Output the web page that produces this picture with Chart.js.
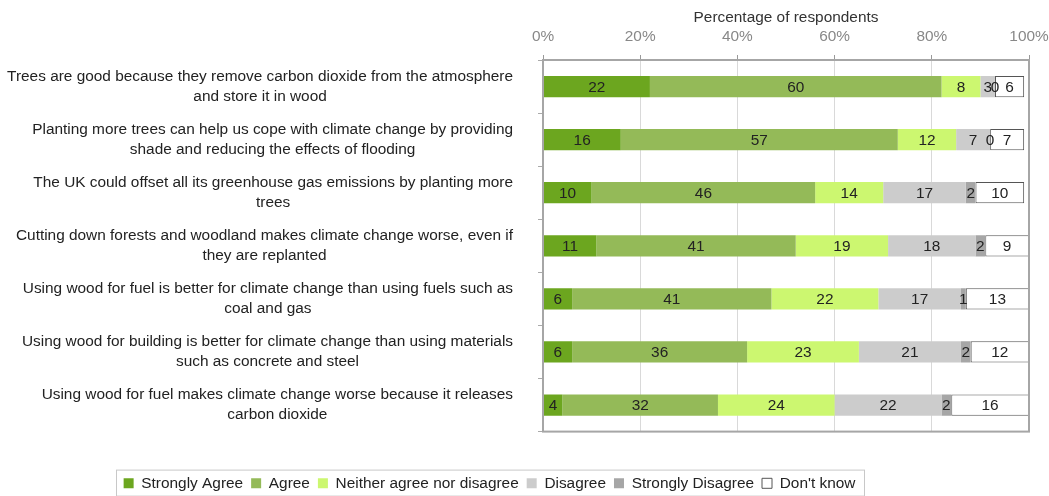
<!DOCTYPE html>
<html>
<head>
<meta charset="utf-8">
<title>Attitudes to trees, wood and climate change</title>
<script src="https://cdn.jsdelivr.net/npm/chart.js@4/dist/chart.umd.min.js"></script>
<style>
  html, body { margin: 0; padding: 0; background: #fff; }
  #wrap { width: 1049px; height: 496px; }
</style>
</head>
<body>
<div id="wrap"><canvas id="chart"></canvas></div>
<script>
// statements, each split into its two printed lines
const statements = [
  ["Trees are good because they remove carbon dioxide from the atmosphere", "and store it in wood"],
  ["Planting more trees can help us cope with climate change by providing", "shade and reducing the effects of flooding"],
  ["The UK could offset all its greenhouse gas emissions by planting more", "trees"],
  ["Cutting down forests and woodland makes climate change worse, even if", "they are replanted"],
  ["Using wood for fuel is better for climate change than using fuels such as", "coal and gas"],
  ["Using wood for building is better for climate change than using materials", "such as concrete and steel"],
  ["Using wood for fuel makes climate change worse because it releases", "carbon dioxide"]
];

const responses = ["Strongly Agree", "Agree", "Neither agree nor disagree", "Disagree", "Strongly Disagree", "Don't know"];

// % of respondents per statement
const stronglyAgree    = [22, 16, 10, 11, 6, 6, 4];
const agree            = [60, 57, 46, 41, 41, 36, 32];
const neither          = [8, 12, 14, 19, 22, 23, 24];
const disagree         = [3, 7, 17, 18, 17, 21, 22];
const stronglyDisagree = [0, 0, 2, 2, 1, 2, 2];
const dontKnow         = [6, 7, 10, 9, 13, 12, 16];

const xTicks = [0, 20, 40, 60, 80, 100];

const FONT = '"Liberation Sans", Arial, Helvetica, sans-serif';
const SIZE = 15.4;
Chart.defaults.font.family = FONT;
Chart.defaults.font.size = SIZE;

const series = [stronglyAgree, agree, neither, disagree, stronglyDisagree, dontKnow];
const fills = ["#6ca61f", "#94ba58", "#ccf770", "#cccccc", "#a6a6a6", "#ffffff"];

const datasets = responses.map((name, i) => ({
  label: name,
  data: series[i],
  backgroundColor: fills[i],
  borderColor: i === 5 ? "#555555" : fills[i],
  borderWidth: i === 5 ? 1 : 0,
  borderSkipped: false,
  barPercentage: 0.4,
  categoryPercentage: 1.0
}));

// grey frame round the plot area
const plotFrame = {
  id: "plotFrame",
  afterDatasetsDraw(chart) {
    const { ctx, chartArea: a } = chart;
    ctx.save();
    ctx.strokeStyle = "#a6a6a6";
    ctx.lineWidth = 2;
    ctx.strokeRect(a.left, a.top, a.right - a.left, a.bottom - a.top);
    ctx.restore();
  }
};

// value printed in the middle of each segment
const valueLabels = {
  id: "valueLabels",
  afterDatasetsDraw(chart) {
    const ctx = chart.ctx;
    ctx.save();
    ctx.font = SIZE + "px " + FONT;
    ctx.fillStyle = "#222";
    ctx.textAlign = "center";
    ctx.textBaseline = "middle";
    chart.data.datasets.forEach((ds, di) => {
      chart.getDatasetMeta(di).data.forEach((bar, i) => {
        ctx.fillText(String(ds.data[i]), (bar.x + bar.base) / 2, bar.y + 1);
      });
    });
    ctx.restore();
  }
};

// statement text: block right-aligned to the axis, lines centred in the block
const statementLabels = {
  id: "statementLabels",
  afterDraw(chart) {
    const ctx = chart.ctx;
    const y = chart.scales.y;
    const right = y.right - 30;
    ctx.save();
    ctx.font = SIZE + "px " + FONT;
    ctx.fillStyle = "#222";
    ctx.textAlign = "center";
    ctx.textBaseline = "middle";
    statements.forEach((lines, i) => {
      const w = Math.max(...lines.map(l => ctx.measureText(l).width));
      const cx = right - w / 2;
      const cy = y.getPixelForValue(i);
      lines.forEach((l, j) => {
        ctx.fillText(l, cx, cy + (j - (lines.length - 1) / 2) * 20);
      });
    });
    ctx.restore();
  }
};

// move the legend a little and box it in
const legendBox = {
  id: "legendBox",
  afterLayout(chart) {
    const lg = chart.legend;
    lg.left -= 25; lg.right -= 25;
    lg.top += 36; lg.bottom += 36;
  },
  afterDraw(chart) {
    const { ctx, legend: lg } = chart;
    ctx.save();
    ctx.font = SIZE + "px " + FONT;
    let total = 0;
    lg.legendItems.forEach((it, i) => {
      total += 10 + SIZE / 2 + ctx.measureText(it.text).width + (i ? 8 : 0);
    });
    const cx = (lg.left + lg.right) / 2;
    ctx.strokeStyle = "#c8c8c8";
    ctx.lineWidth = 1;
    ctx.strokeRect(Math.round(cx - total / 2 - 8) + 0.5, lg.top + 2.5, Math.round(total + 16), 26);
    ctx.restore();
  }
};

new Chart(document.getElementById("chart"), {
  type: "bar",
  data: { labels: statements, datasets },
  options: {
    indexAxis: "y",
    responsive: true,
    maintainAspectRatio: false,
    animation: false,
    layout: { padding: { top: 0, right: 20, bottom: 31, left: 0 } },
    scales: {
      x: {
        position: "top",
        stacked: true,
        min: 0,
        max: 100,
        afterBuildTicks: s => { s.ticks = xTicks.map(v => ({ value: v })); },
        afterFit: s => { s.height = 60; s.paddingLeft = 0; s.paddingRight = 0; },
        ticks: { color: "#888", padding: 9, callback: v => v + "%" },
        grid: { color: "#d9d9d9", tickColor: "#999", tickLength: 5 },
        border: { display: false },
        title: { display: true, text: "Percentage of respondents", color: "#333", padding: { top: 9, bottom: 0 } }
      },
      y: {
        stacked: true,
        afterFit: s => { s.width = 543; },
        ticks: { color: "rgba(0,0,0,0)" },
        grid: { offset: true, drawOnChartArea: false, color: "#aaa", tickLength: 5 },
        border: { display: false }
      }
    },
    plugins: {
      legend: {
        position: "bottom",
        labels: { boxWidth: 10, boxHeight: 10, padding: 8, color: "#222", font: { size: SIZE } }
      },
      tooltip: { enabled: false }
    }
  },
  plugins: [plotFrame, valueLabels, statementLabels, legendBox]
});
</script>
</body>
</html>
